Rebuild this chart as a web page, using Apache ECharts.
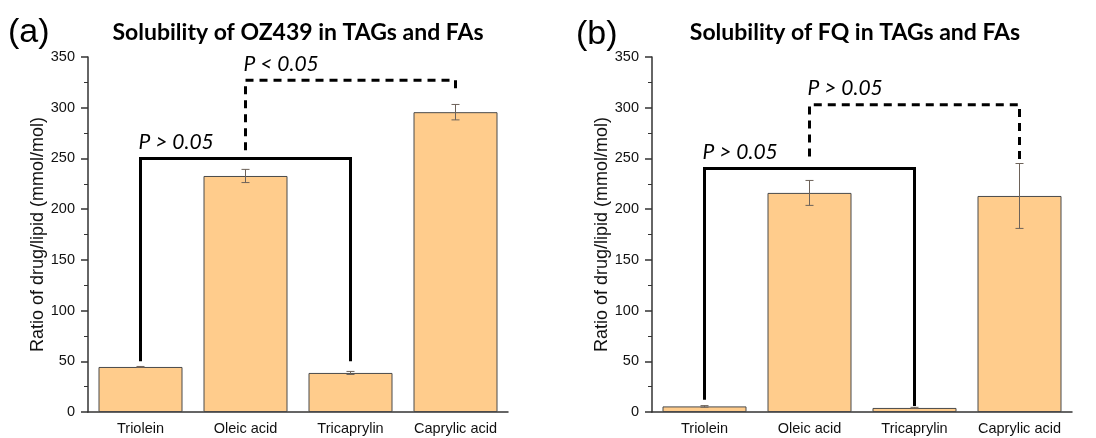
<!DOCTYPE html>
<html><head><meta charset="utf-8">
<script src="https://cdn.jsdelivr.net/npm/echarts@6/dist/echarts.min.js"></script>
<style>html,body{margin:0;padding:0;background:#fff}#c{width:1096px;height:438px}</style>
</head><body><div id="c"></div>
<script>
const categories = ['Triolein', 'Oleic acid', 'Tricaprylin', 'Caprylic acid'];
const oz439Values = [44.4, 232.7, 38.5, 295.6];
const oz439Errors = [0.5, 6.5, 1.5, 7.6];
const fqValues = [5.5, 216, 4, 213];
const fqErrors = [0.8, 12.3, 0.6, 32];
const yTicks = [0, 50, 100, 150, 200, 250, 300, 350];
// brackets: [startCategory, endCategory, topValue, leftFootValue, rightFootValue, dashed]
const oz439Brackets = [[0, 2, 250, 50, 50, 0], [1, 3, 327, 258, 316, 1]];
const oz439BracketLabels = ['P > 0.05', 'P < 0.05'];
const fqBrackets = [[0, 2, 240, 12, 6, 0], [1, 3, 303, 252, 245, 1]];
const fqBracketLabels = ['P > 0.05', 'P > 0.05'];
const titles = ['Solubility of OZ439 in TAGs and FAs', 'Solubility of FQ in TAGs and FAs'];
const panelLabels = ['(a)', '(b)'];
const yAxisName = 'Ratio of drug/lipid (mmol/mol)';

const chart = echarts.init(document.getElementById('c'));
const axisColor = '#333';
const tickFont = {fontFamily: 'Liberation Sans', fontSize: 14.5, color: '#111'};

function errRender(params, api) {
  const c = api.value(0), lo = api.value(1), hi = api.value(2);
  const p1 = api.coord([c, lo]), p2 = api.coord([c, hi]);
  const hw = 4;
  const st = {stroke: '#6d6259', lineWidth: 1};
  return {type: 'group', children: [
    {type: 'line', shape: {x1: p1[0], y1: p1[1], x2: p2[0], y2: p2[1]}, style: st},
    {type: 'line', shape: {x1: p1[0]-hw, y1: p1[1], x2: p1[0]+hw, y2: p1[1]}, style: st},
    {type: 'line', shape: {x1: p2[0]-hw, y1: p2[1], x2: p2[0]+hw, y2: p2[1]}, style: st}
  ]};
}
function makeBracketRender(labels) {
  return function (params, api) {
    const a = api.value(0), b = api.value(1), top = api.value(2), f1 = api.value(3), f2 = api.value(4), dashed = api.value(5);
    const pA = api.coord([a, top]), pB = api.coord([b, top]);
    const pF1 = api.coord([a, f1]), pF2 = api.coord([b, f2]);
    return {type: 'group', children: [
      {type: 'polyline', shape: {points: [[pF1[0], pF1[1]], [pA[0], pA[1]], [pB[0], pB[1]], [pF2[0], pF2[1]]]},
       style: {stroke: '#000', lineWidth: 3, fill: null, lineDash: dashed ? [8, 6] : null, lineJoin: 'miter'}},
      {type: 'text', x: pA[0] - 2, y: pA[1] - 6,
       style: {text: labels[params.dataIndex], fill: '#000', font: 'italic 21px Lato', textAlign: 'left', textVerticalAlign: 'bottom'}}
    ]};
  };
}
function errData(vals, errs) { return vals.map((v, i) => [i, v - errs[i], v + errs[i]]); }

const grids = [{left: 88, width: 420, top: 57, height: 355}, {left: 652, width: 420, top: 57, height: 355}];
const xAxes = grids.map((g, i) => ({
  type: 'category', gridIndex: i, data: categories, boundaryGap: true,
  axisLine: {lineStyle: {color: axisColor, width: 1.5}},
  axisTick: {alignWithLabel: true, interval: 0, length: 5, lineStyle: {color: axisColor, width: 1.5}},
  axisLabel: Object.assign({margin: 9, interval: 0, hideOverlap: false}, tickFont)
}));
const yAxes = grids.map((g, i) => ({
  type: 'value', gridIndex: i, min: yTicks[0], max: yTicks[yTicks.length - 1], interval: yTicks[1] - yTicks[0],
  name: yAxisName, nameLocation: 'middle', nameGap: 39,
  nameTextStyle: {fontFamily: 'Liberation Sans', fontSize: 18, color: '#111'},
  axisLine: {show: true, lineStyle: {color: axisColor, width: 1.5}},
  axisTick: {show: true, length: 7, lineStyle: {color: axisColor, width: 1.5}},
  minorTick: {show: true, splitNumber: 2, length: 4, lineStyle: {color: axisColor, width: 1}},
  splitLine: {show: false},
  axisLabel: Object.assign({margin: 13}, tickFont)
}));

const barStyle = {color: '#FFCC8C', borderColor: '#4a4a4a', borderWidth: 1};
const titleStyle = {fontFamily: 'Lato', fontWeight: 'bold', fontSize: 23, color: '#000'};
const panelStyle = {fontFamily: 'Liberation Sans', fontWeight: 'normal', fontSize: 34, color: '#000'};
const option = {
  animation: false,
  backgroundColor: '#fff',
  title: [
    {text: titles[0], left: 293, top: 16, textAlign: 'center', textStyle: titleStyle},
    {text: titles[1], left: 850, top: 16, textAlign: 'center', textStyle: titleStyle},
    {text: panelLabels[0], left: 3, top: 11, textStyle: panelStyle},
    {text: panelLabels[1], left: 571, top: 13, textStyle: panelStyle}
  ],
  grid: grids,
  xAxis: xAxes,
  yAxis: yAxes,
  series: [
    {type: 'bar', xAxisIndex: 0, yAxisIndex: 0, data: oz439Values, barCategoryGap: '20%', itemStyle: barStyle},
    {type: 'bar', xAxisIndex: 1, yAxisIndex: 1, data: fqValues, barCategoryGap: '20%', itemStyle: barStyle},
    {type: 'custom', xAxisIndex: 0, yAxisIndex: 0, data: errData(oz439Values, oz439Errors), renderItem: errRender, z: 5},
    {type: 'custom', xAxisIndex: 1, yAxisIndex: 1, data: errData(fqValues, fqErrors), renderItem: errRender, z: 5},
    {type: 'custom', xAxisIndex: 0, yAxisIndex: 0, data: oz439Brackets, renderItem: makeBracketRender(oz439BracketLabels), clip: false, z: 6, encode: {x: [0, 1], y: [2, 3, 4]}},
    {type: 'custom', xAxisIndex: 1, yAxisIndex: 1, data: fqBrackets, renderItem: makeBracketRender(fqBracketLabels), clip: false, z: 6, encode: {x: [0, 1], y: [2, 3, 4]}}
  ]
};
chart.setOption(option);
</script></body></html>
